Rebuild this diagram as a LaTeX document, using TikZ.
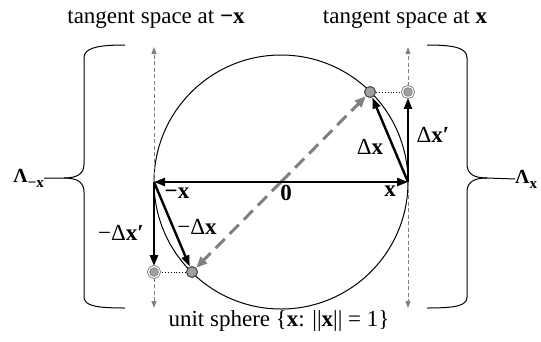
\documentclass[tikz,border=0pt]{standalone}
\usepackage{fontspec}
\setmainfont{Liberation Serif}
\usetikzlibrary{arrows.meta}
\newcommand{\lamsub}[1]{\raisebox{-5pt}{\fontsize{15}{17}\selectfont\bfseries #1}}
\begin{document}
\begin{tikzpicture}[x=1pt,y=-1pt,
  lbl/.style={font=\fontsize{23}{27}\selectfont, inner sep=0pt},
  lam/.style={font=\fontsize{20}{24}\selectfont\bfseries, inner sep=0pt},
  blk/.style={line width=2.4pt, -{Triangle[length=11pt,width=8pt]}},
  tang/.style={gray, line width=1pt, dash pattern=on 4pt off 2.5pt, -{Triangle[length=7pt,width=5pt]}},
  diag/.style={gray, line width=3pt, dash pattern=on 13pt off 7pt, -{Triangle[length=11pt,width=9pt]}},
  dotm/.style={circle, draw=black!75, fill=gray!75, line width=1pt, minimum size=11pt, inner sep=0pt},
  ddotm/.style={circle, draw=gray, fill=gray!75, double=white, double distance=1.1pt, line width=0.9pt, minimum size=11pt, inner sep=0pt},
  bracel/.style={line width=1pt},
  guide/.style={dotted, line width=0.9pt}
]
\useasboundingbox (0,0) rectangle (541,341);
% points
\coordinate (O) at (281,182);
\coordinate (X) at (408,182);
\coordinate (MX) at (154,182);
\coordinate (XT) at (408,47);
\coordinate (XB) at (408,308);
\coordinate (MT) at (154,47);
\coordinate (MB) at (154,308);
% unit sphere
\draw[line width=1pt] (O) circle[radius=127pt];
% markers
\node[dotm] (P) at (370,92) {};
\node[ddotm] (T) at (408,92) {};
\node[dotm] (Q) at (192,272) {};
\node[ddotm] (S) at (154,272) {};
% tangent spaces
\draw[tang] (T) -- (XT);
\draw[tang] (X) -- (XB);
\draw[tang] (MX) -- (MT);
\draw[tang] (S) -- (MB);
% diagonal
\draw[diag] (O) -- (P);
\draw[diag] (O) -- (Q);
% guides
\draw[guide] (P) -- (T);
\draw[guide] (Q) -- (S);
% black arrows
\draw[blk] (O) -- (X);
\draw[blk] (O) -- (MX);
\draw[blk] (X) -- (P);
\draw[blk] (X) -- (T);
\draw[blk] (MX) -- (Q);
\draw[blk] (MX) -- (S);
% labels
\node[lbl] (t1) at (156,20) {tangent space at \textbf{−x}};
\node[lbl] (t2) at (405,20) {tangent space at \textbf{x}};
\node[lbl] (us) at (279,321) {unit sphere \{\textbf{x}: ||\textbf{x}|| = 1\}};
\node[lbl] (l0) at (286,193) {\textbf{0}};
\node[lbl] (lx) at (390,191) {\textbf{x}};
\node[lbl] (lmx) at (177,193) {\textbf{−x}};
\node[lbl] (lmdx) at (197,227) {−Δ\textbf{x}};
\node[lbl] (lmdxp) at (121,233) {−Δ\textbf{x′}};
\node[lbl] (ldx) at (370,147) {Δ\textbf{x}};
\node[lbl] (ldxp) at (433,135) {Δ\textbf{x′}};
\node[lam, anchor=west] (LX) at (515,179) {Λ\lamsub{x}};
\node[lam, anchor=east] (LMX) at (44,178) {Λ\lamsub{−x}};
% braces
\draw[bracel] (427,45) .. controls (455,45) and (467,48) .. (467,58) -- (467,164)
  .. controls (467,174) and (474,178) .. (487,178) -- (LX.west);
\draw[bracel] (487,178) .. controls (474,178) and (467,182) .. (467,192) -- (467,297)
  .. controls (467,306) and (455,308) .. (427,308);
\draw[bracel] (125,45) .. controls (97,45) and (84,48) .. (84,58) -- (84,164)
  .. controls (84,174) and (77,178) .. (64,178) -- (LMX.east);
\draw[bracel] (64,178) .. controls (77,178) and (84,182) .. (84,192) -- (84,297)
  .. controls (84,306) and (97,308) .. (125,308);
\end{tikzpicture}
\end{document}
